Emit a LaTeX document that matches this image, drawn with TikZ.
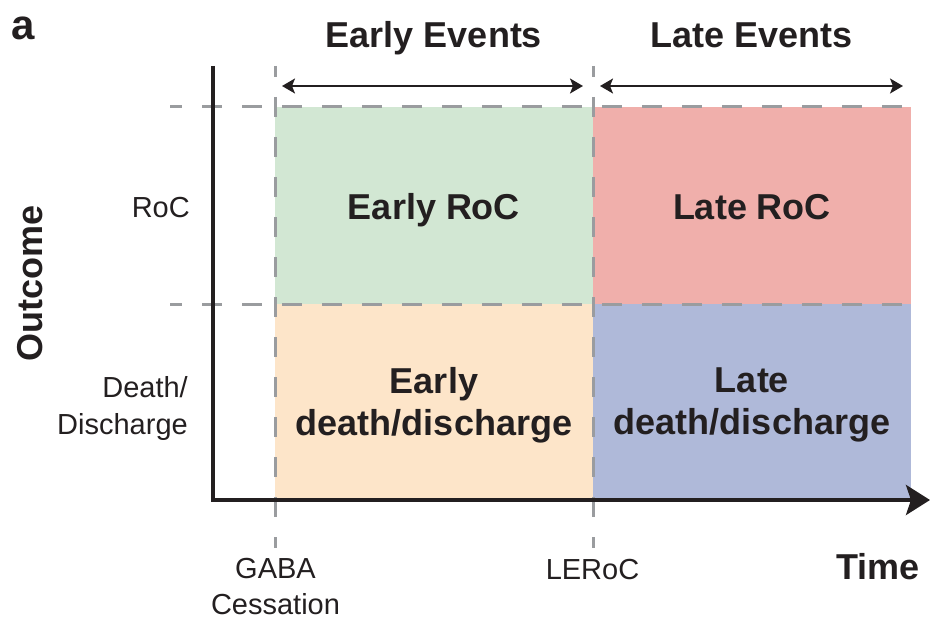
\documentclass[tikz,border=0pt]{standalone}
\usepackage{fontspec}
\setmainfont{Liberation Sans}
\usetikzlibrary{arrows.meta, positioning}
\usepackage{xcolor}
\definecolor{mygreen}{HTML}{D2E7D3}
\definecolor{myred}{HTML}{F0AFAB}
\definecolor{myorange}{HTML}{FDE5C9}
\definecolor{myblue}{HTML}{AFB9D9}
\definecolor{mygray}{HTML}{9A9C9F}
\definecolor{myink}{HTML}{231F20}

\begin{document}
\begin{tikzpicture}[x=1pt, y=-1pt, every node/.style={text=myink, inner sep=0pt},
    bigtext/.style={font=\fontsize{36}{42}\selectfont\bfseries, align=center},
    smalltext/.style={font=\fontsize{29}{36}\selectfont},
    guide/.style={mygray, line width=3pt, dash pattern=on 20pt off 20pt},
    span/.style={myink, line width=1.6pt, {Stealth[length=13pt, width=15pt, inset=3pt]}-{Stealth[length=13pt, width=15pt, inset=3pt]}}]
    \useasboundingbox (0,0) rectangle (932,623);
    \fill[mygreen] (275,107) rectangle (593,304);
    \fill[myred] (593,107) rectangle (911,304);
    \fill[myorange] (275,304) rectangle (593,500);
    \fill[myblue] (593,304) rectangle (911,500);
    \foreach \n/\x in {gaba/275, leroc/593} {
      \coordinate (\n top) at (\x,66);
      \coordinate (\n bot) at (\x,548);
      \draw[guide, dash phase=9pt] (\n top) -- (\n bot);
    }
    \foreach \n/\y in {upper/107, lower/304} {
      \coordinate (\n left) at (170,\y);
      \coordinate (\n right) at (922,\y);
      \draw[guide, dash phase=8pt] (\n left) -- (\n right);
    }
    \coordinate (ytop) at (213,66);
    \coordinate (origin) at (213,500);
    \coordinate (xend) at (930,500);
    \draw[myink, line width=4pt, miter limit=10, -{Stealth[length=24pt, width=30pt, inset=5pt]}] (ytop) -- (origin) -- (xend);
    \coordinate (earlyA) at (282,86);
    \coordinate (earlyB) at (583,86);
    \coordinate (lateA) at (600,86);
    \coordinate (lateB) at (903,86);
    \draw[span] (earlyA) -- (earlyB);
    \draw[span] (lateA) -- (lateB);
    \node[font=\fontsize{42}{42}\selectfont\bfseries, anchor=base west] (panel) at (11,40) {a};
    \node[bigtext, anchor=base] (earlyhead) at (434,48) {Early Events};
    \node[bigtext, anchor=base] (latehead) at (752,48) {Late Events};
    \node[bigtext, anchor=base] (earlyroc) at (434,219) {Early RoC};
    \node[bigtext, anchor=base] (lateroc) at (752,219) {Late RoC};
    \node[bigtext] (earlydd) at (434,405) {Early\\death/discharge};
    \node[bigtext] (latedd) at (752,405) {Late\\death/discharge};
    \node[bigtext, rotate=90, anchor=base] (outcome) at (42,283) {Outcome};
    \node[bigtext, anchor=base east] (time) at (920,579) {Time};
    \node[smalltext, anchor=base east] (roc) at (190,217) {RoC};
    \node[smalltext, font=\fontsize{29}{37}\selectfont, align=right, anchor=east] (dd) at (188,408) {Death/\\Discharge};
    \node[smalltext, align=center] (gaba) at (275.5,587) {GABA\\Cessation};
    \node[smalltext, anchor=base] (leroc) at (592.5,579) {LERoC};
  \end{tikzpicture}
\end{document}
